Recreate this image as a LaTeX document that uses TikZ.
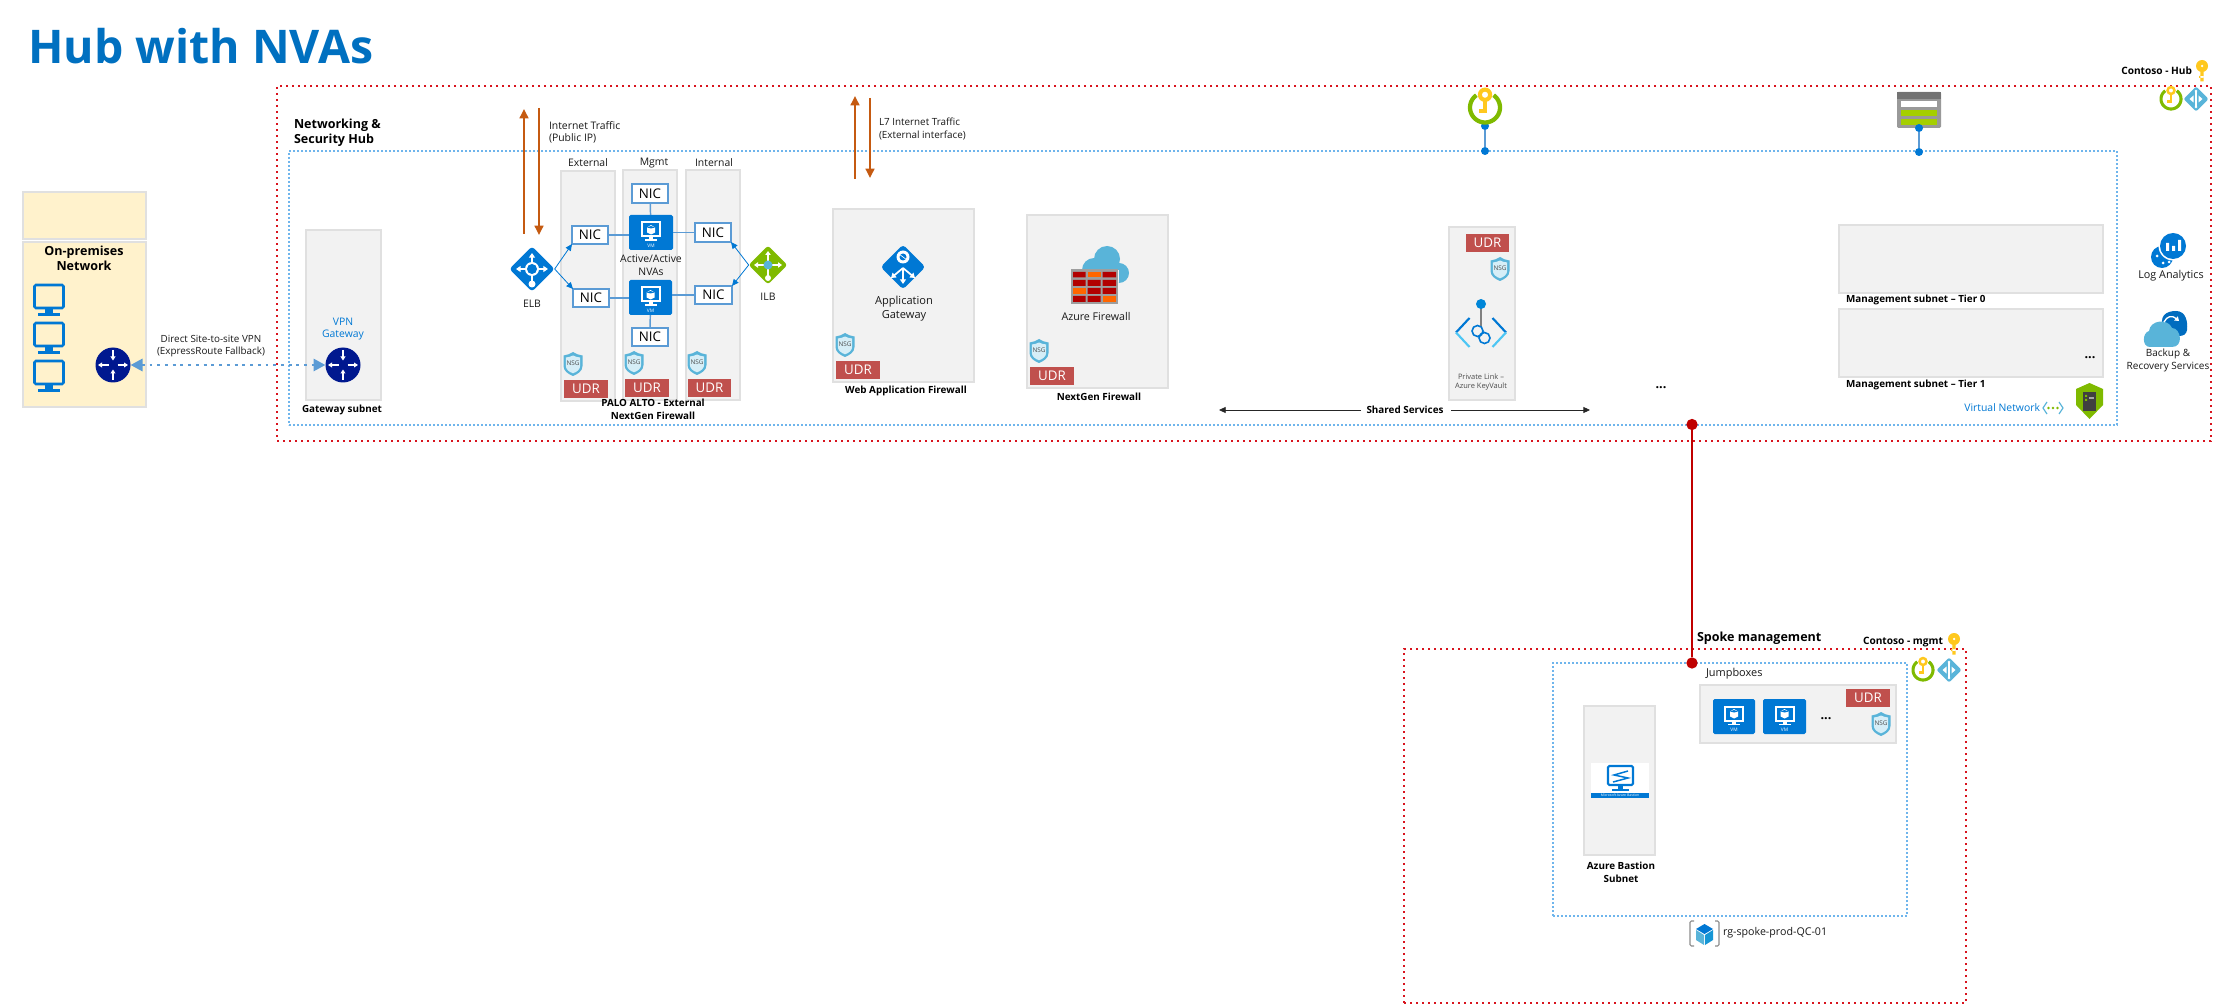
\documentclass[tikz,border=0pt]{standalone}
\usepackage{fontspec}
\setmainfont{Open Sans}
\usetikzlibrary{arrows.meta,shapes.geometric}
\definecolor{azblue}{HTML}{0078D4}
\definecolor{titleblue}{HTML}{0070C0}
\definecolor{navyr}{HTML}{00188F}
\definecolor{hubred}{HTML}{D8141E}
\definecolor{peerred}{HTML}{C00000}
\definecolor{vnetblue}{HTML}{6FB5EC}
\definecolor{nicblue}{HTML}{5B9BD5}
\definecolor{cyanaz}{HTML}{59B4D9}
\definecolor{nsgpale}{HTML}{D6EEF7}
\definecolor{orangear}{HTML}{C55A11}
\definecolor{udrred}{HTML}{C0504D}
\definecolor{subnetbg}{HTML}{F2F2F2}
\definecolor{subnetln}{HTML}{E0E0E0}
\definecolor{creambg}{HTML}{FFF2CC}
\definecolor{lbgreen}{HTML}{7FBA00}
\definecolor{keyyel}{HTML}{FFC81E}
\newcommand\ftxt{\fontsize{7.8}{9.4}\selectfont}
\newcommand\fsmall{\fontsize{7.4}{9.4}\selectfont}
\newcommand\fbld{\fontsize{7.4}{9.4}\selectfont\bfseries}
\newcommand\fbig{\fontsize{9.4}{11.6}\selectfont\bfseries}
\newcommand\fdots{\fontsize{9.5}{11}\selectfont\bfseries}
\newcommand\ringlw{2.3pt}
\newcommand\bx[7]{\pgfmathsetmacro\bxw{(#5-#3)*0.75}\pgfmathsetmacro\bxh{(#6-#4)*0.75}\node[#1,minimum width=\bxw pt,minimum height=\bxh pt,inner sep=0pt,outer sep=0pt] (#2) at ({(#3+#5)/2},{(#4+#6)/2}) {#7};}
\tikzset{
 hubframe/.style={draw=hubred,line width=1.5pt,dash pattern=on 1.5pt off 3pt},
 vnetframe/.style={draw=vnetblue,line width=1pt,dash pattern=on 1.4pt off 1.6pt},
 subnet/.style={rectangle,draw=subnetln,line width=0.9pt,fill=subnetbg},
 cream/.style={rectangle,draw=subnetln,line width=0.9pt,fill=creambg},
 lbl/.style={inner sep=0pt,outer sep=0pt,align=center,font=\ftxt,text=black!90},
 bld/.style={inner sep=0pt,outer sep=0pt,align=center,font=\fbld,text=black},
 nicbox/.style={rectangle,draw=nicblue,line width=1.1pt,fill=white,font=\fontsize{10}{11}\selectfont,text=black},
 udrbox/.style={rectangle,fill=udrred,font=\fontsize{10}{11}\selectfont,text=white},
 vmbox/.style={rectangle,rounded corners=1.2pt,fill=azblue},
 nicline/.style={draw=nicblue,line width=1.1pt},
 lbarrow/.style={draw=azblue,line width=0.6pt,-{Triangle[width=4.5pt,length=5pt]}},
 orangearrow/.style={draw=orangear,line width=1.9pt,-{Triangle[width=6.5pt,length=7pt]}},
 router/.style={circle,fill=navyr,minimum size=26.25pt,inner sep=0pt,outer sep=0pt},
 dotnode/.style={circle,fill=azblue,minimum size=6pt,inner sep=0pt,outer sep=0pt},
 reddotnode/.style={circle,fill=peerred,minimum size=8.5pt,inner sep=0pt,outer sep=0pt},
 whitearr/.style={draw=white,line width=1.1pt,-{Triangle[width=3.6pt,length=3pt]}},
 nsgicon/.pic={
  \fill[cyanaz] (0,-12) .. controls (-3,-10) and (-6,-9) .. (-9.5,-8.5) -- (-9.5,2) .. controls (-9.5,7) and (-5,10) .. (0,12) .. controls (5,10) and (9.5,7) .. (9.5,2) -- (9.5,-8.5) .. controls (6,-9) and (3,-10) .. (0,-12) -- cycle;
  \fill[nsgpale] (0,-8.5) .. controls (-2,-7.5) and (-5,-6.5) .. (-7.2,-6.5) -- (-7.2,1.5) .. controls (-7.2,5.5) and (-4,7.8) .. (0,9.3) .. controls (4,7.8) and (7.2,5.5) .. (7.2,1.5) -- (7.2,-6.5) .. controls (5,-6.5) and (2,-7.5) .. (0,-8.5) -- cycle;
  \node[inner sep=0pt,font=\fontsize{4.8}{5}\selectfont,text=black!70] (nsgt) at (0,-0.5) {NSG};
 },
 vmicon/.pic={
  \fill[white] (-10,-11) rectangle (10,5);
  \fill[azblue] (-8,-9) rectangle (8,3);
  \fill[white] (0,-7.5) -- (4,-5) -- (4,0) -- (0,2) -- (-4,0) -- (-4,-5) -- cycle;
  \fill[azblue] (0,-4) -- (4,-5) -- (0,-6.5) -- (-4,-5) -- cycle;
  \fill[white] (-2,5) rectangle (2,7);
  \fill[white] (-6,7) rectangle (6,8.2);
  \node[inner sep=0pt,font=\fontsize{3.6}{4}\selectfont,text=white] (vmt) at (0,13) {VM};
 },
 pcicon/.pic={
  \draw[azblue,line width=1.9pt,rounded corners=1pt] (-14.5,-15) rectangle (14.5,8);
  \fill[azblue] (-4,9) rectangle (4,13);
  \fill[azblue] (-11,13) rectangle (11,16);
 },
 routerarrows/.pic={
  \draw[whitearr] (0,-15) -- (0,-4.5);
  \draw[whitearr] (0,15) -- (0,4.5);
  \draw[whitearr] (-4.5,0) -- (-15,0);
  \draw[whitearr] (4.5,0) -- (15,0);
 },
 keyring/.pic={
  \draw[lbgreen,line width=\ringlw] plot[domain=-55:235,samples=40] ({10*cos(\x)},{10*sin(\x)});
  \fill[keyyel,even odd rule] (0,-8.5) circle[radius=4.8] (0,-8.5) circle[radius=2.1];
  \fill[keyyel] (-1.4,-4) rectangle (1.4,4);
  \fill[keyyel] (-1.4,1) rectangle (-4,4);
 },
 keyonly/.pic={
  \fill[keyyel,even odd rule] (0,-5) circle[radius=6] (0,-5) circle[radius=1.5];
  \fill[keyyel] (-1.6,0) rectangle (1.6,10.5) (1.6,5) rectangle (-3,7);
 },
 peericon/.pic={
  \fill[cyanaz,rounded corners=1.5pt] (0,-12.5) -- (12.5,0) -- (0,12.5) -- (-12.5,0) -- cycle;
  \draw[white,line width=0.8pt] (0,-8) -- (0,8);
  \fill[white] (-6.5,0) -- (-2.5,-3.5) -- (-2.5,3.5) -- cycle (6.5,0) -- (2.5,-3.5) -- (2.5,3.5) -- cycle;
  \fill[white] (0,-8) circle[radius=1.4] (0,8) circle[radius=1.4];
 }
}
\begin{document}
\begin{tikzpicture}[x=0.75pt,y=-0.75pt]
\useasboundingbox (0,0) rectangle (2217,1005);
\fill[white] (0,0) rectangle (2217,1005);
% title
\node[anchor=base west,inner sep=0pt,font=\fontsize{34.8}{38}\selectfont\bfseries,text=titleblue] (title) at (28,64) {Hub with NVAs};
% frames
\bx{hubframe}{hub}{277}{86}{2211}{441}{}
\bx{vnetframe}{hubvnet}{289}{151}{2117}{425}{}
\bx{hubframe}{spoke}{1404}{649}{1966}{1003}{}
\bx{vnetframe}{spokevnet}{1553}{663}{1907}{916}{}
% on-premises
\bx{cream}{onpremtop}{23}{192}{146}{239}{}
\bx{cream}{onprem}{23}{242}{146}{407}{}
\node[bld,font=\fbig] (onpremlbl) at (84,258.5) {On-premises\\Network};
\pic at (49,300) {pcicon};
\pic at (49,338) {pcicon};
\pic at (49,376) {pcicon};
\node[router] (r1) at (113,365) {};
\pic at (113,365) {routerarrows};
% gateway subnet
\bx{subnet}{gwsub}{306}{230}{381}{400}{}
\node[lbl,text=azblue] (gwlbl) at (343,329) {VPN\\Gateway};
\node[router] (r2) at (343,365) {};
\pic at (343,365) {routerarrows};
\node[bld] (gwsublbl) at (342,410) {Gateway subnet};
\draw[draw=nicblue,line width=2.2pt,dash pattern=on 2.2pt off 3.6pt,{Triangle[width=9pt,length=9pt]}-{Triangle[width=9pt,length=9pt]}] (r1) -- (r2);
\node[lbl,font=\fsmall] (vpnlbl) at (211,346) {Direct Site-to-site VPN\\(ExpressRoute Fallback)};
\node[bld,font=\fbig,align=left,anchor=west] (hublbl) at (294,133) {Networking \&\\Security Hub};
% orange arrows 1
\coordinate (oa1) at (524,234); \coordinate (oa2) at (524,109);
\coordinate (ob1) at (539,108); \coordinate (ob2) at (539,235);
\draw[orangearrow] (oa1) -- (oa2);
\draw[orangearrow] (ob1) -- (ob2);
\node[lbl,align=left,anchor=west] (inetlbl) at (549,132.5) {Internet Traffic\\(Public IP)};
% PA columns
\bx{subnet}{colext}{561}{171}{615}{401}{}
\bx{subnet}{colmgt}{623}{170}{677}{400}{}
\bx{subnet}{colint}{686}{170}{740}{400}{}
\node[lbl] (extl) at (588,163) {External};
\node[lbl] (mgtl) at (654,163) {Mgmt};
\node[lbl] (intl) at (714,163) {Internal};
\bx{nicbox}{nicm1}{632}{184}{668}{203}{NIC}
\bx{nicbox}{ext1}{572}{226}{608}{244}{NIC}
\bx{nicbox}{int1}{695}{223}{731}{242}{NIC}
\bx{nicbox}{ext2}{573}{289}{609}{307}{NIC}
\bx{nicbox}{int2}{695}{286}{732}{304}{NIC}
\bx{nicbox}{nicm2}{632}{328}{668}{346}{NIC}
\bx{vmbox}{vm1}{629}{215}{673}{250}{}
\bx{vmbox}{vm2}{629}{280}{672}{315}{}
\pic at (651,232.5) {vmicon};
\pic at (650.5,297.5) {vmicon};
\draw[nicline] (ext1.east) -- (ext1.east -| vm1.west);
\draw[nicline] (vm1.east |- int1.west) -- (int1.west);
\draw[nicline] (ext2.east) -- (ext2.east -| vm2.west);
\draw[nicline] (vm2.east |- int2.west) -- (int2.west);
\draw[nicline] (nicm1) -- (vm1);
\draw[nicline] (vm2) -- (nicm2);
\node[lbl] (aalbl) at (651,265) {Active/Active\\NVAs};
% load balancers
\node[diamond,fill=azblue,rounded corners=2.5pt,minimum width=34pt,minimum height=34pt,inner sep=0pt,outer sep=0pt] (elb) at (532,269) {};
\draw[draw=white,line width=1.3pt,-{Triangle[width=4.5pt,length=3.5pt]}] (532,269) -- (532,253);
\draw[draw=white,line width=1.3pt,-{Triangle[width=4.5pt,length=3.5pt]}] (532,269) -- (516,269);
\draw[draw=white,line width=1.3pt,-{Triangle[width=4.5pt,length=3.5pt]}] (532,269) -- (548,269);
\draw[draw=white,line width=1.3pt] (532,269) -- (532,283);
\fill[white] (532,284) circle[radius=3.5];
\fill[white] (532,269) circle[radius=7];
\fill[azblue] (532,269) circle[radius=5];
\node[lbl] (elbl) at (532,304) {ELB};
\node[diamond,fill=lbgreen,rounded corners=2pt,minimum width=29pt,minimum height=29pt,inner sep=0pt,outer sep=0pt] (ilb) at (768,265) {};
\draw[draw=white,line width=1.1pt,-{Triangle[width=4pt,length=3pt]}] (768,265) -- (768,251);
\draw[draw=white,line width=1.1pt,-{Triangle[width=4pt,length=3pt]}] (768,265) -- (754,265);
\draw[draw=white,line width=1.1pt,-{Triangle[width=4pt,length=3pt]}] (768,265) -- (782,265);
\draw[draw=white,line width=1.1pt] (768,265) -- (768,277);
\fill[white] (768,278) circle[radius=3];
\fill[cyanaz] (768,265) circle[radius=4.5];
\node[lbl] (ilbl) at (768,297) {ILB};
\draw[lbarrow] (elb.east) -- (ext1.south west);
\draw[lbarrow] (elb.east) -- (ext2.north west);
\draw[lbarrow] (ilb.west) -- (int1.south east);
\draw[lbarrow] (ilb.west) -- (int2.north east);
\pic at (573,364) {nsgicon};
\pic at (634,363) {nsgicon};
\pic at (697,363) {nsgicon};
\bx{udrbox}{udr1}{564}{380}{608}{398}{UDR}
\bx{udrbox}{udr2}{625}{379}{669}{397}{UDR}
\bx{udrbox}{udr3}{688}{379}{731}{397}{UDR}
\node[bld] (palbl) at (653,409.5) {PALO ALTO - External\\NextGen Firewall};
% orange arrows 2
\coordinate (oc1) at (855,179); \coordinate (oc2) at (855,96);
\coordinate (od1) at (870,98); \coordinate (od2) at (870,178);
\draw[orangearrow] (oc1) -- (oc2);
\draw[orangearrow] (od1) -- (od2);
\node[lbl,font=\fsmall,align=left,anchor=west] (l7lbl) at (879,129) {L7 Internet Traffic\\(External interface)};
% application gateway
\bx{subnet}{agsub}{833}{209}{974}{382}{}
\node[diamond,fill=azblue,rounded corners=2.5pt,minimum width=33.5pt,minimum height=33.5pt,inner sep=0pt,outer sep=0pt] (ag) at (903,267) {};
\draw[draw=white,line width=1.3pt,-{Triangle[width=4.5pt,length=3.5pt]}] (903,268) -- (903,284);
\draw[draw=white,line width=1.3pt,-{Triangle[width=4.5pt,length=3.5pt]}] (903,268) -- (891,278);
\draw[draw=white,line width=1.3pt,-{Triangle[width=4.5pt,length=3.5pt]}] (903,268) -- (915,278);
\fill[white] (903,257) circle[radius=6.5];
\fill[azblue] (903,257) circle[radius=3.5];
\draw[white,line width=0.5pt] (899,254) -- (907,260);
\node[lbl,font=\fontsize{8.3}{11}\selectfont] (aglbl) at (904,308.5) {Application\\Gateway};
\pic at (845,345) {nsgicon};
\bx{udrbox}{udr4}{836}{361}{880}{379}{UDR}
\node[bld] (waflbl) at (906,391) {Web Application Firewall};
% azure firewall
\bx{subnet}{fwsub}{1027}{215}{1168}{388}{}
\fill[cyanaz] (1107,259) circle[radius=13] (1119,273) circle[radius=10] (1094,270) circle[radius=12] (1094,270) rectangle (1119,283);
\fill[black!38] (1071,269) rectangle (1118,304);
\fill[red!70!black] (1073,272) rectangle (1085.5,277.5) (1102.5,272) rectangle (1116,277.5);
\fill[orange!80!red] (1087.5,272) rectangle (1100.5,277.5);
\fill[red!70!black] (1073,280) rectangle (1085.5,286) (1087.5,280) rectangle (1100.5,286) (1102.5,280) rectangle (1116,286);
\fill[orange!80!red] (1073,288) rectangle (1085.5,294);
\fill[red!70!black] (1087.5,288) rectangle (1100.5,294) (1102.5,288) rectangle (1116,294);
\fill[red!70!black] (1073,296) rectangle (1085.5,302) (1087.5,296) rectangle (1100.5,302);
\fill[orange!80!red] (1102.5,296) rectangle (1116,302);
\node[lbl,font=\fontsize{8}{9.4}\selectfont] (fwlbl) at (1096,317) {Azure Firewall};
\pic at (1039,351) {nsgicon};
\bx{udrbox}{udr5}{1030}{367}{1074}{385}{UDR}
\node[bld] (ngfw) at (1099,397) {NextGen Firewall};
% private link
\bx{subnet}{plsub}{1449}{227}{1515}{400}{}
\bx{udrbox}{udr6}{1466}{234}{1509}{252}{UDR}
\pic at (1500,269) {nsgicon};
\draw[black!50,line width=2pt] (1481,304) -- (1481,327);
\fill[azblue!90!cyan] (1481,304) circle[radius=5];
\draw[azblue,line width=1.6pt] (1469.5,318) -- (1456,332.5);
\draw[cyan!70!white,line width=1.6pt] (1456,332.5) -- (1469.5,347);
\draw[azblue,line width=1.6pt] (1492.5,318) -- (1506,332.5);
\draw[cyan!70!white,line width=1.6pt] (1506,332.5) -- (1492.5,347);
\draw[azblue,line width=1.2pt] (1477.5,331) circle[radius=5.5] (1484.5,338) circle[radius=5.5];
\node[lbl,font=\fontsize{5.6}{7.4}\selectfont,text=black!70] (pllbl) at (1481,382) {Private Link --\\Azure KeyVault};
% shared services
\node[bld,fill=white,inner xsep=0pt] (shared) at (1405,410) {Shared Services};
\coordinate (shl) at (1219,410);
\coordinate (shr) at (1590,410);
\coordinate (shls) at (1361,410);
\coordinate (shrs) at (1451,410);
\draw[draw=black!85,line width=0.6pt,-{Triangle[width=4.5pt,length=5pt]}] (shls) -- (shl);
\draw[draw=black!85,line width=0.6pt,-{Triangle[width=4.5pt,length=5pt]}] (shrs) -- (shr);
\node[bld,font=\fdots] (dots1) at (1661,388) {...};
% key ring top
\node[dotnode] (kd1) at (1485,126) {};
\node[dotnode] (kd2) at (1485,151) {};
\draw[nicline,line width=0.9pt] (kd1) -- (kd2);
\renewcommand\ringlw{3.2pt}
\pic[scale=1.5] at (1485,107.5) {keyring};
\renewcommand\ringlw{2.3pt}
% table icon
\fill[black!40,rounded corners=1pt] (1897,92) rectangle (1941,128);
\fill[black!55] (1897,92) rectangle (1941,99);
\fill[white] (1901,101) rectangle (1937,107);
\fill[lbgreen!70!yellow] (1901,110) rectangle (1937,116);
\fill[lbgreen!70!yellow] (1901,119) rectangle (1937,125);
\node[dotnode] (td1) at (1919,128) {};
\node[dotnode] (td2) at (1919,152) {};
\draw[nicline] (td1) -- (td2);
% hub corner
\node[bld,font=\fontsize{7.6}{9}\selectfont\bfseries,anchor=east] (conhub) at (2192,71) {Contoso - Hub};
\pic at (2202,71) {keyonly};
\pic at (2171,99) {keyring};
\pic at (2196,99) {peericon};
% management subnets
\bx{subnet}{mg0}{1839}{225}{2103}{293}{}
\bx{subnet}{mg1}{1839}{309}{2103}{377}{}
\node[bld,anchor=west] (mg0l) at (1846,300) {Management subnet -- Tier 0};
\node[bld,anchor=west] (mg1l) at (1846,385) {Management subnet -- Tier 1};
\node[bld,font=\fdots] (dots2) at (2090,358) {...};
\node[lbl,text=azblue,anchor=east] (vnl) at (2040,408) {Virtual Network};
\draw[cyanaz,line width=0.9pt] (2047,402) -- (2043,408) -- (2047,414);
\draw[cyanaz,line width=0.9pt] (2059,402) -- (2063,408) -- (2059,414);
\fill[lbgreen] (2048.5,408) circle[radius=1.3] (2053,408) circle[radius=1.3] (2057.5,408) circle[radius=1.3];
\fill[lbgreen] (2089.5,383) -- (2103,389) -- (2103,405) -- (2089.5,419) -- (2076,405) -- (2076,389) -- cycle;
\fill[black!75] (2083,392) rectangle (2096,411);
\fill[lbgreen] (2085,395) rectangle (2087,397) (2085,399) rectangle (2087,401);
\fill[black!35] (2089,397) rectangle (2094,399);
% log analytics
\fill[azblue] (2162,257) circle[radius=11];
\fill[white] (2173,246) circle[radius=14.5];
\fill[azblue] (2173,246) circle[radius=13];
\fill[white] (2166,243) rectangle (2169,251) (2172,246) rectangle (2175,251) (2178,240) rectangle (2181,251);
\fill[white] (2157,256) circle[radius=1.5] (2163,263) circle[radius=1.5] (2169,262) circle[radius=1.5];
\node[lbl,font=\fontsize{8.1}{9.4}\selectfont] (lalbl) at (2171,276) {Log Analytics};
% backup
\fill[azblue!90!black] (2164,330) .. controls (2158,316) and (2166,311) .. (2176,311) .. controls (2186,311) and (2188,322) .. (2187,330) .. controls (2186,338) and (2175,338) .. (2164,330) -- cycle;
\fill[cyanaz] (2150,347) .. controls (2142,347) and (2142,333) .. (2149,331) .. controls (2150,320) and (2168,318) .. (2172,328) .. controls (2181,328) and (2184,347) .. (2172,347) -- cycle;
\draw[white,line width=1pt,-{Triangle[width=4pt,length=3pt]}] (2164,322) .. controls (2167,316) and (2172,315) .. (2179,321);
\node[lbl,font=\fontsize{7.5}{9.4}\selectfont] (bklbl) at (2168,360.5) {Backup \&\\Recovery Services};
% spoke
\node[bld,font=\fontsize{9.4}{11}\selectfont\bfseries,anchor=west] (spokel) at (1697,638) {Spoke management};
\node[bld,font=\fontsize{7.6}{9}\selectfont\bfseries,anchor=east] (conmg) at (1943,642) {Contoso - mgmt};
\pic at (1954,644) {keyonly};
\pic at (1923,670) {keyring};
\pic at (1949,670) {peericon};
\node[lbl,font=\fontsize{8.2}{9.4}\selectfont,anchor=west] (jbl) at (1706,674) {Jumpboxes};
\bx{subnet}{jb}{1700}{685}{1896}{743}{}
\bx{vmbox}{jv1}{1713}{699}{1755}{734}{}
\bx{vmbox}{jv2}{1763}{699}{1806}{734}{}
\pic at (1734,716.5) {vmicon};
\pic at (1784.5,716.5) {vmicon};
\node[bld,font=\fdots] (dots3) at (1826,719) {...};
\bx{udrbox}{udr7}{1846}{689}{1890}{707}{UDR}
\pic at (1881,724) {nsgicon};
% bastion
\bx{subnet}{bas}{1584}{706}{1655}{855}{}
\fill[white] (1590.5,763) rectangle (1649,798);
\fill[azblue] (1590.5,793) rectangle (1649,798);
\node[inner sep=0pt,font=\fontsize{2.6}{3}\selectfont,text=white] (bast) at (1620,795.5) {Microsoft Azure Bastion};
\draw[azblue,line width=1.6pt,rounded corners=1pt] (1608,766) rectangle (1633,785);
\fill[azblue] (1618,785) rectangle (1623,789);
\fill[azblue] (1612,789) rectangle (1629,790.5);
\draw[azblue,line width=1.1pt] (1628,771) -- (1614,775) -- (1628,778) -- (1613,782);
\node[bld] (baslbl) at (1621,872.5) {Azure Bastion\\Subnet};
% rg
\draw[black!45,line width=0.8pt,rounded corners=1pt] (1694,921) -- (1690,921) -- (1690,946) -- (1694,946);
\draw[black!45,line width=0.8pt,rounded corners=1pt] (1715,921) -- (1719,921) -- (1719,946) -- (1715,946);
\fill[azblue] (1704.5,924) -- (1713,929) -- (1704.5,934) -- (1696,929) -- cycle;
\fill[cyanaz] (1696,930) -- (1704,935) -- (1704,945) -- (1696,940) -- cycle;
\fill[cyan!60!azblue] (1713,930) -- (1705,935) -- (1705,945) -- (1713,940) -- cycle;
\node[lbl,font=\fontsize{8}{9.4}\selectfont,anchor=west] (rgl) at (1723,933) {rg-spoke-prod-QC-01};
% peering
\node[reddotnode] (pd1) at (1692,424.5) {};
\node[reddotnode] (pd2) at (1692,663) {};
\draw[draw=peerred,line width=2pt] (pd1) -- (pd2);
\end{tikzpicture}
\end{document}
